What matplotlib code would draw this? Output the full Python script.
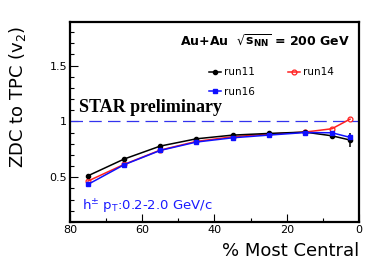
import numpy as np
import matplotlib
matplotlib.use('Agg')
import matplotlib.pyplot as plt
from matplotlib.ticker import MultipleLocator

# centrality bin centres (% most central)
centrality = [75, 65, 55, 45, 35, 25, 15, 7.5, 2.5]

# ZDC to TPC v2 ratio per run
run11 = [0.513, 0.663, 0.779, 0.844, 0.877, 0.892, 0.904, 0.871, 0.833]
run11_err = [0.005, 0.005, 0.005, 0.005, 0.005, 0.005, 0.005, 0.01, 0.06]
run14 = [0.466, 0.615, 0.743, 0.821, 0.862, 0.886, 0.904, 0.934, 1.02]
run16 = [0.436, 0.612, 0.740, 0.815, 0.853, 0.877, 0.900, 0.898, 0.857]
run16_err = [0.005, 0.005, 0.005, 0.005, 0.005, 0.005, 0.005, 0.01, 0.03]

fig = plt.figure(figsize=(3.74, 2.68), dpi=100)
ax = fig.add_axes([0.187, 0.172, 0.773, 0.746])

ax.axhline(1.0, color='#3333ee', lw=0.9, dashes=(10, 5))

l11 = ax.errorbar(centrality, run11, yerr=run11_err, color='black', marker='o', ms=3,
                  lw=1.1, elinewidth=1.1, capsize=0, label='run11')
l14, = ax.plot(centrality, run14, color='#ff2020', marker='o', ms=3.5, mfc='none',
               mew=0.9, lw=1.1, label='run14')
l16 = ax.errorbar(centrality, run16, yerr=run16_err, color='#1010ff', marker='s', ms=3.5,
                  lw=1.1, elinewidth=1.1, capsize=0, label='run16')

ax.set_xlim(80, 0)
ax.set_ylim(0.1, 1.89)
ax.xaxis.set_major_locator(MultipleLocator(20))
ax.xaxis.set_minor_locator(MultipleLocator(10))
ax.yaxis.set_major_locator(MultipleLocator(0.5))
ax.yaxis.set_minor_locator(MultipleLocator(0.1))
ax.set_yticks([0.5, 1, 1.5])
ax.set_yticklabels(['0.5', '1', '1.5'])
ax.tick_params(which='both', direction='in', top=False, right=False, labelsize=8, pad=2)
ax.tick_params(which='major', length=6, width=0.8)
ax.tick_params(which='minor', length=3, width=0.8)
for s in ax.spines.values():
    s.set_linewidth(1.6)

# plain line handles in the legend (no error bar ticks)
leg = ax.legend([l11[0], l16[0], l14], ['run11', 'run16', 'run14'], ncol=2, frameon=False,
                fontsize=7.5, handlelength=1.1, handletextpad=0.3, columnspacing=3.2,
                labelspacing=0.9, loc='upper left', bbox_to_anchor=(0.45, 0.82))

ax.text(0.97, 0.9, r'Au+Au  $\sqrt{\mathbf{s_{NN}}}$ = 200 GeV', transform=ax.transAxes,
        ha='right', va='center', fontsize=9, fontweight='bold')
ax.text(0.032, 0.57, 'STAR preliminary', transform=ax.transAxes, ha='left', va='center',
        fontsize=13, fontweight='bold', family='Liberation Serif')
ax.text(0.04, 0.075, r'h$^{\pm}$ p$_{\rm T}$:0.2-2.0 GeV/c', transform=ax.transAxes,
        ha='left', va='center', fontsize=9.5, color='#1a1aff')

fig.text(0.96, 0.065, '% Most Central', ha='right', va='center', fontsize=13)
fig.text(0.048, 0.64, r'ZDC to TPC (v$_2$)', rotation=90, ha='center', va='center', fontsize=13)

fig.savefig('out.png', dpi=100)
